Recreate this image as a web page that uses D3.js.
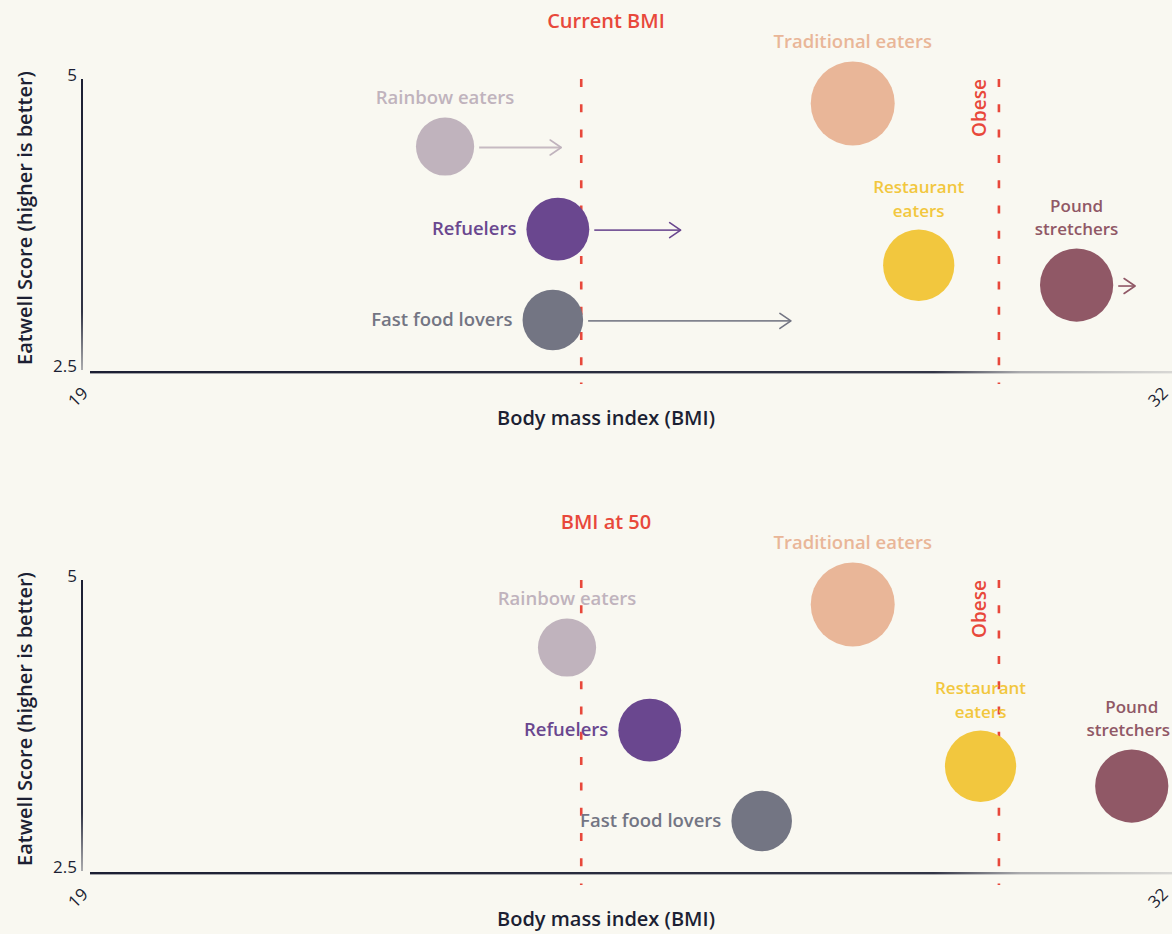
<!DOCTYPE html>
<html>
<head>
<meta charset="utf-8">
<script src="https://cdn.jsdelivr.net/npm/d3@7"></script>
<style>
  html, body { margin: 0; padding: 0; background: #f9f8f1; }
  svg { display: block; }
  text { font-family: "Open Sans", Lato, sans-serif; }
</style>
</head>
<body>
<svg id="chart" width="1172" height="934"></svg>
<script>
// ---- data ----
const groups = ["Rainbow eaters", "Refuelers", "Fast food lovers", "Traditional eaters", "Restaurant eaters", "Pound stretchers"];
const labelLines = [["Rainbow eaters"], ["Refuelers"], ["Fast food lovers"], ["Traditional eaters"], ["Restaurant", "eaters"], ["Pound", "stretchers"]];
const labelSide = ["top", "left", "left", "top", "top", "top"];
const bmiNow = [23.37, 24.72, 24.66, 28.25, 29.04, 30.93];
const bmiAt50 = [24.83, 25.82, 27.16, 28.25, 29.78, 31.59];
const eatwell = [4.42, 3.71, 2.93, 4.79, 3.40, 3.23];
const groupSize = [12, 14, 13, 25, 18, 19];
const arrowEnd = [24.76, 26.19, 27.51, null, null, 31.63];
const colors = ["#c0b3bd", "#6a478f", "#737583", "#e9b698", "#f2c73e", "#905866"];
const xTicks = [19, 32];
const yTicks = [2.5, 5];
const refLines = [25, 30];
const panelTitles = ["Current BMI", "BMI at 50"];

// ---- layout ----
const svg = d3.select("#chart");
const W = 1172;
const x = d3.scaleLinear().domain([19, 32]).range([80, 1166]);
const r = d3.scaleSqrt().domain([0, 25]).range([0, 42]);
const ink = "#1c1f33";
const red = "#e8483b";

const defs = svg.append("defs");
const gx = defs.append("linearGradient").attr("id", "gx").attr("x1", "0").attr("x2", "1").attr("y1", "0").attr("y2", "0");
gx.append("stop").attr("offset", "0").attr("stop-color", ink).attr("stop-opacity", 1);
gx.append("stop").attr("offset", "0.78").attr("stop-color", ink).attr("stop-opacity", 0.9);
gx.append("stop").attr("offset", "0.86").attr("stop-color", ink).attr("stop-opacity", 0.35);
gx.append("stop").attr("offset", "1").attr("stop-color", ink).attr("stop-opacity", 0.15);
const gy = defs.append("linearGradient").attr("id", "gy").attr("x1", "0").attr("x2", "0").attr("y1", "0").attr("y2", "1");
gy.append("stop").attr("offset", "0").attr("stop-color", ink).attr("stop-opacity", 1);
gy.append("stop").attr("offset", "0.8").attr("stop-color", ink).attr("stop-opacity", 0.9);
gy.append("stop").attr("offset", "1").attr("stop-color", ink).attr("stop-opacity", 0.35);

colors.forEach((c, i) => {
  defs.append("marker").attr("id", "arr" + i)
    .attr("markerUnits", "userSpaceOnUse")
    .attr("markerWidth", 16).attr("markerHeight", 18)
    .attr("refX", 13).attr("refY", 9).attr("orient", "auto")
    .append("path").attr("d", "M2,1.5 L13,9 L2,16.5")
    .attr("fill", "none").attr("stroke", c).attr("stroke-width", 1.6)
    .attr("stroke-linecap", "round").attr("stroke-linejoin", "round");
});

const data = groups.map((g, i) => ({
  i, name: g, lines: labelLines[i], side: labelSide[i], now: bmiNow[i], at50: bmiAt50[i],
  score: eatwell[i], size: groupSize[i], arrow: arrowEnd[i], color: colors[i]
}));

function panel(offset, pi) {
  const y = d3.scaleLinear().domain([2.5, 5]).range([370 + offset, 79 + offset]);
  const g = svg.append("g");

  // title
  g.append("text").attr("x", 606).attr("y", 28 + offset).attr("text-anchor", "middle")
    .attr("fill", red).attr("font-size", 20).attr("font-weight", 600).text(panelTitles[pi]);

  // y axis title
  g.append("text").attr("transform", `translate(32,${218 + offset}) rotate(-90)`)
    .attr("text-anchor", "middle").attr("fill", ink).attr("font-size", 20).attr("font-weight", 600)
    .text("Eatwell Score (higher is better)");

  // x axis title
  g.append("text").attr("x", 606).attr("y", 425 + offset).attr("text-anchor", "middle")
    .attr("fill", ink).attr("font-size", 20).attr("font-weight", 600).text("Body mass index (BMI)");

  // y axis
  const yAxis = g.append("g").attr("transform", `translate(82,0)`)
    .call(d3.axisLeft(y).tickValues(yTicks).tickSize(0).tickPadding(5).tickFormat(d3.format("")));
  yAxis.select(".domain").remove();
  yAxis.selectAll("text").attr("font-size", 17).attr("fill", ink).attr("font-family", "'Open Sans', sans-serif").attr("dy", "0.1em");
  g.append("rect").attr("x", 81).attr("y", y(5)).attr("width", 2).attr("height", y(2.5) - y(5))
    .attr("fill", "url(#gy)");

  // x axis
  g.append("rect").attr("x", 90).attr("y", y(2.5) + 1).attr("width", W - 90).attr("height", 2.4)
    .attr("fill", "url(#gx)");
  const xAxis = g.append("g").attr("transform", `translate(0,${y(2.5) + 27})`)
    .call(d3.axisBottom(x).tickValues(xTicks).tickSize(0).tickPadding(0).tickFormat(d3.format("")));
  xAxis.select(".domain").remove();
  xAxis.selectAll(".tick").attr("transform", d => `translate(${Math.min(x(d) - 2, W - 14)},0)`);
  xAxis.selectAll("text").attr("font-size", 17).attr("fill", ink).attr("font-family", "'Open Sans', sans-serif")
    .attr("text-anchor", "middle").attr("dy", "0.35em").attr("y", 0)
    .attr("transform", "rotate(-45)");

  // reference dashed lines
  g.selectAll(".ref").data(refLines).join("line")
    .attr("x1", d => x(d)).attr("x2", d => x(d))
    .attr("y1", y(5)).attr("y2", y(2.5) + 14)
    .attr("stroke", red).attr("stroke-width", 2.6).attr("stroke-dasharray", "8 17.3");
  g.append("text").attr("transform", `translate(986,${108 + offset}) rotate(-90)`)
    .attr("text-anchor", "middle").attr("fill", red).attr("font-size", 19).attr("font-weight", 600).text("Obese");

  const bmi = d => pi === 0 ? d.now : d.at50;

  // arrows (top panel only)
  if (pi === 0) {
    g.selectAll(".arrow").data(data.filter(d => d.arrow !== null)).join("line")
      .attr("x1", d => x(d.now) + r(d.size) + 5).attr("x2", d => x(d.arrow))
      .attr("y1", d => y(d.score) + 1).attr("y2", d => y(d.score) + 1)
      .attr("stroke", d => d.color).attr("stroke-width", 1.8).attr("stroke-opacity", 0.9)
      .attr("marker-end", d => `url(#arr${d.i})`);
  }

  // circles
  g.selectAll(".dot").data(data).join("circle")
    .attr("cx", d => x(bmi(d))).attr("cy", d => y(d.score)).attr("r", d => r(d.size))
    .attr("fill", d => d.color);

  // labels
  data.forEach(d => {
    const cx = x(bmi(d)), cy = y(d.score), rr = r(d.size);
    if (d.side === "left") {
      g.append("text").attr("fill", d.color).attr("font-size", 18.5).attr("font-weight", 600)
        .attr("x", cx - rr - 10).attr("y", cy + 6).attr("text-anchor", "end").text(d.lines[0]);
    } else {
      const n = d.lines.length;
      const fs = n > 1 ? 17 : 18.5;
      d.lines.forEach((ln, k) => {
        const t = g.append("text").attr("fill", d.color).attr("font-size", fs).attr("font-weight", 600)
          .attr("text-anchor", "middle")
          .attr("x", cx).attr("y", cy - rr - 13 - (n - 1 - k) * 23.5).text(ln);
        const w = t.node().getComputedTextLength();
        if (cx + w / 2 > W - 2) t.attr("x", W - 2 - w / 2);
      });
    }
  });
}

panel(0, 0);
panel(501, 1);
</script>
</body>
</html>
